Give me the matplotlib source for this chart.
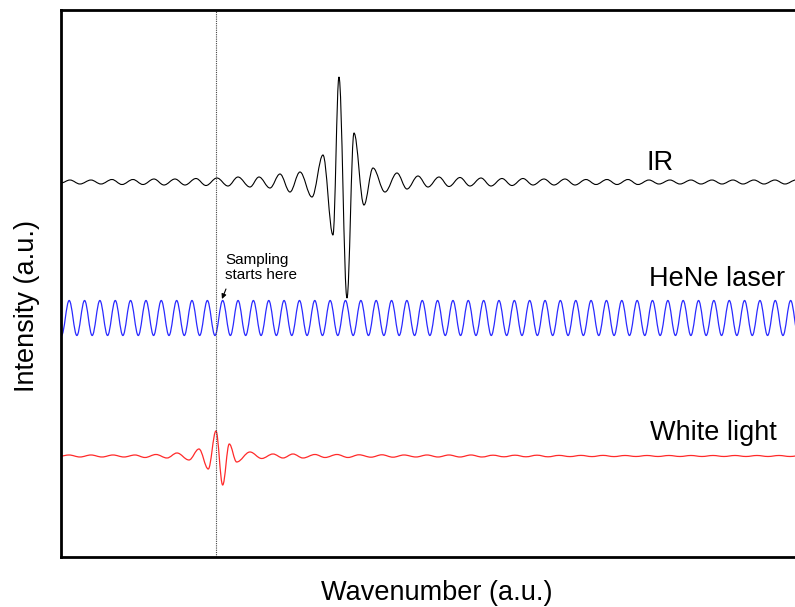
import matplotlib.pyplot as plt
from matplotlib.path import Path
from matplotlib.patches import PathPatch

plt.rcParams['font.family'] = ['Liberation Sans', 'DejaVu Sans']

# extrema of each interferogram, x in a.u. from the left edge,
# y relative to the trace's own baseline (up is positive)
ir_x = [0, 9, 19, 30, 40, 51, 61, 72, 82, 93, 103, 114, 124, 135, 145, 156,
        167, 177, 189, 198, 209, 219, 229, 239, 251, 262, 272, 278, 286, 293,
        303, 312, 324, 336, 346, 357, 367, 378, 388, 399, 409, 420, 430, 441,
        451, 462, 472, 483, 493, 504, 514, 525, 535, 546, 556, 567, 577, 588,
        598, 609, 619, 630, 640, 651, 661, 672, 682, 693, 703, 714, 724, 735,
        745, 756]
ir_y = [-1, 2, -2, 2, -2, 2.5, -2.5, 2.5, -2.5, 3, -3, 3, -3, 3.5, -3.5, 4,
        -4, 5, -5, 5, -6, 8, -10, 10, -15, 27, -53, 105, -116, 49, -23, 14,
        -10, 9, -7, 6, -5, 5, -4.5, 4.5, -4, 4, -4, 3.5, -3.5, 3.5, -3, 3, -3,
        3, -3, 2.5, -2.5, 2.5, -2.5, 2.5, -2.5, 2, -2, 2, -2, 2, -2, 2, -2, 2,
        -2, 2, -2, 2, -2, 2, -2, 2]

hene_troughs = [0.5, 15.9, 31.2, 46.6, 61.9, 77.3, 92.6, 108.0, 123.3, 138.7,
                154.0, 169.4, 184.7, 200.1, 215.4, 230.8, 246.1, 261.5, 276.8,
                292.2, 307.5, 322.9, 338.2, 353.6, 368.9, 384.3, 399.6, 415.0,
                430.3, 445.7, 461.0, 476.4, 491.7, 507.1, 522.4, 537.8, 553.1,
                568.5, 583.8, 599.2, 614.5, 629.9, 645.2, 660.6, 675.9, 691.3,
                706.6, 722.0, 737.3, 752.7]
hene_peaks = [8.2, 23.6, 38.9, 54.3, 69.6, 85.0, 100.3, 115.7, 131.0, 146.4,
              161.7, 177.1, 192.4, 207.8, 223.1, 238.5, 253.8, 269.2, 284.5,
              299.9, 315.2, 330.6, 345.9, 361.3, 376.6, 392.0, 407.3, 422.7,
              438.0, 453.4, 468.7, 484.1, 499.4, 514.8, 530.1, 545.5, 560.8,
              576.2, 591.5, 606.9, 622.2, 637.6, 652.9, 668.3, 683.6, 699.0,
              714.3, 729.7, 745.0]
hene_amp = 17.5

white_x = [0, 8, 19, 30, 41, 52, 63, 74, 84, 95, 106, 116, 128, 138, 147.3,
           155, 161.7, 168.3, 175.7, 189, 200.7, 212, 222, 232, 242, 254, 264,
           276, 287, 298, 310, 321, 332, 343, 355, 366, 377, 388, 399, 410,
           421, 432, 443, 454, 465, 476, 487, 498, 509, 520, 531, 542, 553,
           564, 575, 586, 597, 608, 619, 630, 641, 652, 663, 674, 685, 696,
           707, 718, 729, 740, 751, 762]
white_y = [0, 1, -1, 1, -1, 1, -1, 1, -1.5, 1.5, -2, 3, -4, 7, -13, 25, -29,
           12, -6, 4, -2.5, 2, -2, 2, -2, 1.5, -1.5, 1.5, -1.5, 1.2, -1.2, 1.2,
           -1.2, 1, -1, 1, -1, 1, -1, 1, -1, 0.8, -0.8, 0.8, -0.8, 0.8, -0.8,
           0.6, -0.6, 0.6, -0.6, 0.6, -0.6, 0.5, -0.5, 0.5, -0.5, 0.5, -0.5,
           0.5, -0.5, 0.5, -0.5, 0.5, -0.5, 0.5, -0.5, 0.5, -0.5, 0.5, -0.5,
           0.5]

sample_start = 155


def wave_path(xs, ys, base):
    # smooth half-waves between successive extrema (flat at each extremum)
    verts = [(xs[0], base + ys[0])]
    codes = [Path.MOVETO]
    for i in range(len(xs) - 1):
        d = 0.364 * (xs[i + 1] - xs[i])
        verts += [(xs[i] + d, base + ys[i]),
                  (xs[i + 1] - d, base + ys[i + 1]),
                  (xs[i + 1], base + ys[i + 1])]
        codes += [Path.CURVE4] * 3
    return Path(verts, codes)


hene_x = []
hene_y = []
for i, t in enumerate(hene_troughs):
    hene_x.append(t)
    hene_y.append(-hene_amp)
    if i < len(hene_peaks):
        hene_x.append(hene_peaks[i])
        hene_y.append(hene_amp)

fig = plt.figure(figsize=(7.95, 6.07), dpi=100)
ax = fig.add_axes([0.0767, 0.0824, 0.9459, 0.9011])

ax.add_patch(PathPatch(wave_path(ir_x, ir_y, 375), fill=False,
                       edgecolor='black', lw=0.8))
ax.add_patch(PathPatch(wave_path(hene_x, hene_y, 239), fill=False,
                       edgecolor='#2a2aff', lw=0.9))
ax.add_patch(PathPatch(wave_path(white_x, white_y, 101), fill=False,
                       edgecolor='#ff2a2a', lw=0.9))

ax.axvline(sample_start, color='#444444', lw=0.8, ls=(0, (1, 1)))

ax.text(599, 394, 'IR', fontsize=19.5, ha='center', va='center')
ax.text(656, 278, 'HeNe laser', fontsize=19.5, ha='center', va='center')
ax.text(652, 124, 'White light', fontsize=19.5, ha='center', va='center')
ax.text(164, 275, 'Sampling\nstarts here', fontsize=11, ha='left',
        va='bottom', linespacing=1.05)
ax.annotate('', xy=(161, 258), xytext=(165, 268),
            arrowprops=dict(arrowstyle='-|>', color='black', lw=0.8,
                            mutation_scale=7, shrinkA=0, shrinkB=0))

ax.set_xlim(0, 752)
ax.set_ylim(0, 547)
ax.set_xticks([])
ax.set_yticks([])
for s in ax.spines.values():
    s.set_linewidth(2)

fig.text(437 / 795, 1 - 593 / 607, 'Wavenumber (a.u.)', fontsize=19.5,
         ha='center', va='center')
fig.text(27 / 795, 1 - 306 / 607, 'Intensity (a.u.)', fontsize=19.5,
         ha='center', va='center', rotation=90)

fig.savefig('out.png', dpi=100)
